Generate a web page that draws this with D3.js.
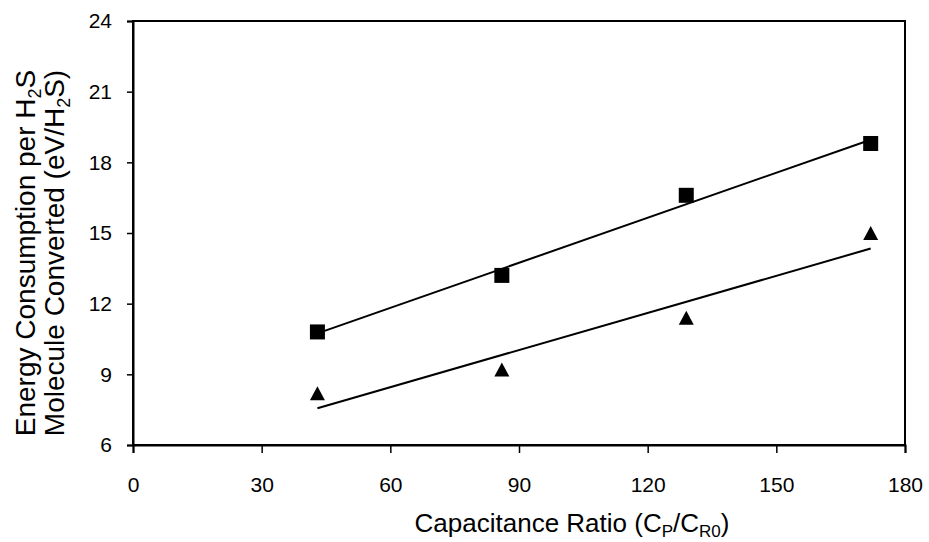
<!DOCTYPE html>
<html>
<head>
<meta charset="utf-8">
<script src="https://cdn.jsdelivr.net/npm/d3@7"></script>
<style>
  html, body { margin: 0; padding: 0; background: #fff; }
  svg text { font-family: "Liberation Sans", Arial, sans-serif; fill: #000; }
</style>
</head>
<body>
<div id="chart"></div>
<script>
// data
const capRatio = [43, 86, 129, 172];
const energySquare = [10.8, 13.2, 16.6, 18.8];
const energyTriangle = [8.2, 9.2, 11.4, 15.0];
const xTicks = [0, 30, 60, 90, 120, 150, 180];
const yTicks = [6, 9, 12, 15, 18, 21, 24];

const width = 929, height = 542;
const margin = { top: 21, right: 24, bottom: 97, left: 133 };

const svg = d3.select("#chart")
  .append("svg")
  .attr("width", width)
  .attr("height", height);

const x = d3.scaleLinear().domain([0, 180]).range([margin.left, width - margin.right]);
const y = d3.scaleLinear().domain([6, 24]).range([height - margin.bottom, margin.top]);

// plot frame
svg.append("rect")
  .attr("x", x(0)).attr("y", y(24))
  .attr("width", x(180) - x(0)).attr("height", y(6) - y(24))
  .attr("fill", "none").attr("stroke", "#000").attr("stroke-width", 2);

// axes
const xAxis = svg.append("g")
  .attr("transform", `translate(0,${y(6)})`)
  .call(d3.axisBottom(x).tickValues(xTicks).tickSize(8).tickPadding(24).tickFormat(d3.format("d")));
const yAxis = svg.append("g")
  .attr("transform", `translate(${x(0)},0)`)
  .call(d3.axisLeft(y).tickValues(yTicks).tickSize(6).tickPadding(15).tickFormat(d3.format("d")));

[xAxis, yAxis].forEach(g => {
  g.select(".domain").attr("stroke-width", 2);
  g.selectAll(".tick line").attr("stroke-width", 1.5);
  g.selectAll(".tick text")
    .attr("font-size", 21)
    .attr("font-family", "Liberation Sans, Arial, sans-serif")
    .attr("fill", "#000");
});

// least squares trend lines, drawn over the data range like the original
function fit(xs, ys) {
  const mx = d3.mean(xs), my = d3.mean(ys);
  const b = d3.sum(xs, (v, i) => (v - mx) * (ys[i] - my)) / d3.sum(xs, v => (v - mx) ** 2);
  const a = my - b * mx;
  const ext = d3.extent(xs);
  return ext.map(v => [v, a + b * v]);
}

const line = d3.line().x(d => x(d[0])).y(d => y(d[1]));

[energySquare, energyTriangle].forEach(series => {
  svg.append("path")
    .attr("d", line(fit(capRatio, series)))
    .attr("fill", "none")
    .attr("stroke", "#000")
    .attr("stroke-width", 2);
});

// markers
const sq = 15;
svg.selectAll(".sq")
  .data(capRatio.map((v, i) => [v, energySquare[i]]))
  .enter().append("rect")
  .attr("x", d => x(d[0]) - sq / 2)
  .attr("y", d => y(d[1]) - sq / 2)
  .attr("width", sq).attr("height", sq)
  .attr("fill", "#000");

const tw = 15, th = 14;
svg.selectAll(".tri")
  .data(capRatio.map((v, i) => [v, energyTriangle[i]]))
  .enter().append("path")
  .attr("d", d => {
    const cx = x(d[0]), cy = y(d[1]);
    return `M${cx},${cy - th / 2}L${cx + tw / 2},${cy + th / 2}L${cx - tw / 2},${cy + th / 2}Z`;
  })
  .attr("fill", "#000");

// x axis title
const xt = svg.append("text")
  .attr("x", 572).attr("y", 532)
  .attr("text-anchor", "middle")
  .attr("font-size", 26);
xt.append("tspan").text("Capacitance Ratio (C");
xt.append("tspan").attr("font-size", 17).attr("dy", 5).text("P");
xt.append("tspan").attr("dy", -5).text("/C");
xt.append("tspan").attr("font-size", 17).attr("dy", 5).text("R0");
xt.append("tspan").attr("dy", -5).text(")");

// y axis title, two lines
const yt = svg.append("g").attr("transform", "translate(0,253) rotate(-90)");
const l1 = yt.append("text").attr("x", 0).attr("y", 35)
  .attr("text-anchor", "middle").attr("font-size", 28);
l1.append("tspan").text("Energy Consumption per H");
l1.append("tspan").attr("font-size", 18).attr("dy", 6).text("2");
l1.append("tspan").attr("dy", -6).text("S");

const l2 = yt.append("text").attr("x", 0).attr("y", 64)
  .attr("text-anchor", "middle").attr("font-size", 28);
l2.append("tspan").text("Molecule Converted (eV/H");
l2.append("tspan").attr("font-size", 18).attr("dy", 6).text("2");
l2.append("tspan").attr("dy", -6).text("S)");
</script>
</body>
</html>
